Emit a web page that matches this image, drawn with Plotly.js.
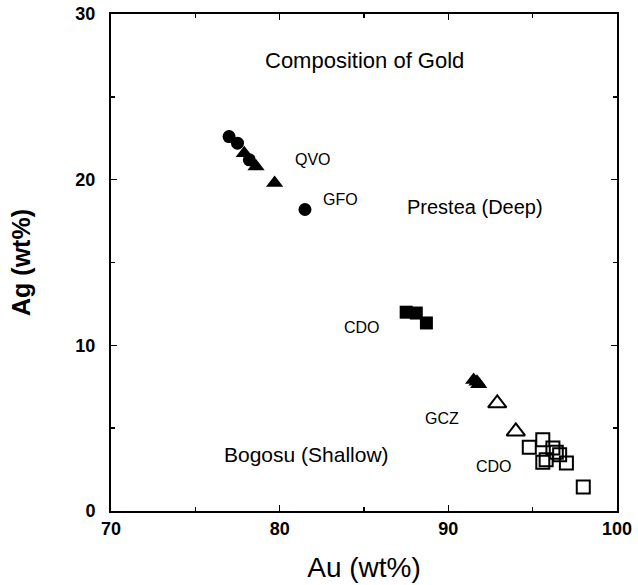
<!DOCTYPE html>
<html>
<head>
<meta charset="utf-8">
<script src="https://cdn.plot.ly/plotly-3.0.1.min.js"></script>
<style>html,body{margin:0;padding:0;background:#fff;}#chart{width:638px;height:585px;}</style>
</head>
<body>
<div id="chart"></div>
<script>
// Prestea (Deep) - QVO / GFO
const qvoCircleAu = [77.0, 77.5, 78.2];
const qvoCircleAg = [22.6, 22.2, 21.2];
const gfoCircleAu = [81.5];
const gfoCircleAg = [18.2];
const qvoTriAu = [77.9, 78.6, 79.7];
const qvoTriAg = [21.6, 20.8, 19.8];
// CDO (deep) filled squares
const cdoDeepAu = [87.5, 88.1, 88.7];
const cdoDeepAg = [12.0, 11.95, 11.35];
// GCZ filled triangles
const gczFilledAu = [91.5, 91.7, 91.8];
const gczFilledAg = [7.9, 7.8, 7.65];
// Bogosu open triangles
const gczOpenAu = [92.9, 94.0];
const gczOpenAg = [6.5, 4.8];
// Bogosu CDO open squares
const cdoShallowAu = [94.8, 95.6, 95.6, 95.8, 96.2, 96.4, 96.6, 97.0, 98.0];
const cdoShallowAg = [3.85, 4.3, 2.95, 3.1, 3.8, 3.55, 3.4, 2.9, 1.45];

const labels = [
  {text: 'Composition of Gold', x: 85.0, y: 27.2, size: 22},
  {text: 'QVO', x: 82.0, y: 21.2, size: 16},
  {text: 'GFO', x: 83.6, y: 18.8, size: 16},
  {text: 'Prestea (Deep)', x: 91.6, y: 18.35, size: 20},
  {text: 'CDO', x: 84.9, y: 11.05, size: 16},
  {text: 'GCZ', x: 89.6, y: 5.6, size: 16},
  {text: 'Bogosu (Shallow)', x: 81.6, y: 3.4, size: 21},
  {text: 'CDO', x: 92.7, y: 2.66, size: 16}
];

const FONT = 'Liberation Sans, Arial, sans-serif';
function tr(x, y, symbol, size, open) {
  return {
    x: x, y: y, type: 'scatter', mode: 'markers', hoverinfo: 'skip',
    marker: open
      ? {symbol: symbol, size: size, color: '#000', line: {color: '#000', width: 2}}
      : {symbol: symbol, size: size, color: '#000', line: {width: 0}}
  };
}
const data = [
  tr(qvoCircleAu, qvoCircleAg, 'circle', 13, false),
  tr(gfoCircleAu, gfoCircleAg, 'circle', 13, false),
  tr(qvoTriAu, qvoTriAg, 'triangle-up', 15, false),
  tr(cdoDeepAu, cdoDeepAg, 'square', 13, false),
  tr(gczFilledAu, gczFilledAg, 'triangle-up', 15, false),
  tr(gczOpenAu, gczOpenAg, 'triangle-up-open', 16, true),
  tr(cdoShallowAu, cdoShallowAg, 'square-open', 13, true)
];
const layout = {
  width: 638, height: 585,
  margin: {l: 111, r: 21, t: 14, b: 74},
  paper_bgcolor: '#fff', plot_bgcolor: '#fff',
  showlegend: false,
  font: {family: FONT, color: '#000'},
  xaxis: {
    range: [70, 100], dtick: 10, tick0: 70,
    ticks: 'inside', ticklen: 6, tickwidth: 1.5, tickcolor: '#000',
    mirror: 'ticks', showline: true, linecolor: '#000', linewidth: 2,
    showgrid: false, zeroline: false,
    minor: {dtick: 5, ticks: 'inside', ticklen: 4, tickcolor: '#000', showgrid: false},
    tickfont: {family: FONT, size: 18, color: '#000', weight: 'bold'},
    title: {text: 'Au (wt%)', font: {family: FONT, size: 28, color: '#000'}, standoff: 20}
  },
  yaxis: {
    range: [0, 30], dtick: 10, tick0: 0,
    ticks: 'inside', ticklen: 6, tickwidth: 1.5, tickcolor: '#000',
    mirror: 'ticks', showline: true, linecolor: '#000', linewidth: 2,
    showgrid: false, zeroline: false, ticklabelstandoff: 10,
    minor: {dtick: 5, ticks: 'inside', ticklen: 4, tickcolor: '#000', showgrid: false},
    tickfont: {family: FONT, size: 18, color: '#000', weight: 'bold'},
    title: {text: 'Ag (wt%)', font: {family: FONT, size: 25, color: '#000', weight: 'bold'}, standoff: 38}
  },
  annotations: labels.map(l => ({
    text: l.text, x: l.x, y: l.y, xref: 'x', yref: 'y', showarrow: false,
    font: {family: FONT, size: l.size, color: '#000'}
  }))
};
Plotly.newPlot('chart', data, layout, {staticPlot: true, displayModeBar: false});
</script>
</body>
</html>
